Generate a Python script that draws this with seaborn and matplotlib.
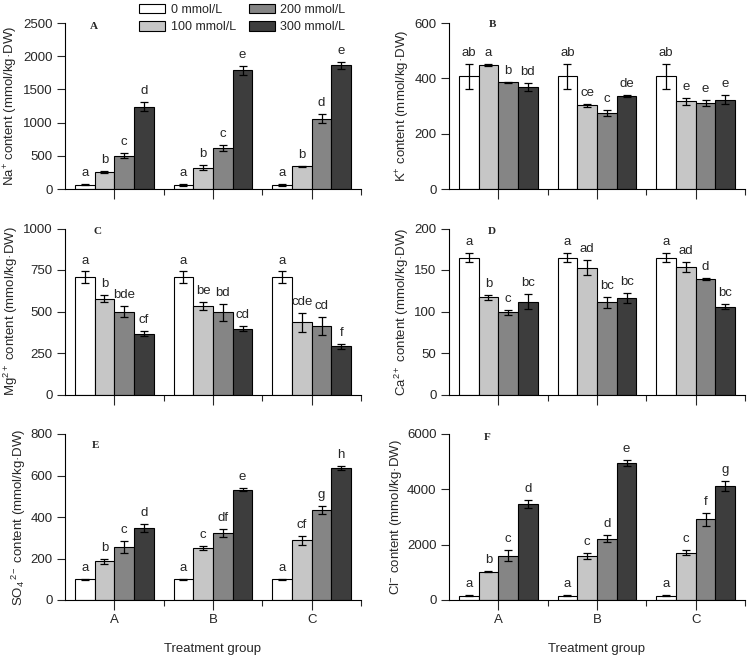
import numpy as np
import pandas as pd
import matplotlib
matplotlib.use("Agg")
import matplotlib.pyplot as plt
import seaborn as sns
from matplotlib.patches import Patch

sns.set_theme(style="ticks")
plt.rcParams['font.family'] = ['Liberation Sans', 'DejaVu Sans']
plt.rcParams['mathtext.fontset'] = 'custom'
plt.rcParams['mathtext.rm'] = 'Liberation Sans'
plt.rcParams['mathtext.it'] = 'Liberation Sans:italic'
plt.rcParams['mathtext.default'] = 'regular'

# ---------------- data ----------------
groups = ["A", "B", "C"]
concs = ["0 mmol/L", "100 mmol/L", "200 mmol/L", "300 mmol/L"]
colors = ["#ffffff", "#c6c6c6", "#858585", "#3d3d3d"]

# rows = treatment group A, B, C ; columns = 0, 100, 200, 300 mmol/L
na_mean = [[65, 260, 500, 1240], [62, 320, 620, 1785], [62, 340, 1060, 1865]]
na_err = [[10, 15, 35, 65], [10, 35, 50, 70], [10, 5, 70, 55]]
na_let = [["a", "b", "c", "d"], ["a", "b", "c", "e"], ["a", "b", "d", "e"]]

k_mean = [[407, 447, 385, 369], [407, 303, 276, 337], [407, 317, 311, 323]]
k_err = [[46, 4, 2, 15], [46, 6, 11, 3], [46, 13, 11, 16]]
k_let = [["ab", "a", "b", "bd"], ["ab", "ce", "c", "de"], ["ab", "e", "e", "e"]]

mg_mean = [[705, 577, 500, 367], [705, 535, 495, 396], [705, 434, 415, 290]]
mg_err = [[36, 20, 32, 14], [36, 24, 50, 16], [36, 58, 54, 16]]
mg_let = [["a", "b", "bde", "cf"], ["a", "be", "bd", "cd"], ["a", "cde", "cd", "f"]]

ca_mean = [[165, 117, 99, 112], [165, 153, 111, 116], [165, 154, 139, 106]]
ca_err = [[5, 3, 3, 9], [5, 9, 7, 6], [5, 6, 1, 3]]
ca_let = [["a", "b", "c", "bc"], ["a", "ad", "bc", "bc"], ["a", "ad", "d", "bc"]]

so4_mean = [[100, 187, 256, 346], [100, 251, 323, 531], [100, 287, 434, 638]]
so4_err = [[3, 13, 30, 19], [3, 11, 21, 8], [3, 21, 19, 10]]
so4_let = [["a", "b", "c", "d"], ["a", "c", "df", "e"], ["a", "cf", "g", "h"]]

cl_mean = [[150, 1030, 1600, 3470], [150, 1590, 2220, 4950], [150, 1710, 2920, 4120]]
cl_err = [[20, 15, 190, 145], [20, 120, 130, 115], [20, 80, 235, 190]]
cl_let = [["a", "b", "c", "d"], ["a", "c", "d", "e"], ["a", "c", "f", "g"]]

panels = [
    ("A", "Na$^{+}$ content (mmol/kg·DW)", na_mean, na_err, na_let, [0, 500, 1000, 1500, 2000, 2500]),
    ("B", "K$^{+}$ content (mmol/kg·DW)", k_mean, k_err, k_let, [0, 200, 400, 600]),
    ("C", "Mg$^{2+}$ content (mmol/kg·DW)", mg_mean, mg_err, mg_let, [0, 250, 500, 750, 1000]),
    ("D", "Ca$^{2+}$ content (mmol/kg·DW)", ca_mean, ca_err, ca_let, [0, 50, 100, 150, 200]),
    ("E", "SO$_{4}$$^{\\,2-}$ content (mmol/kg·DW)", so4_mean, so4_err, so4_let, [0, 200, 400, 600, 800]),
    ("F", "Cl$^{-}$ content (mmol/kg·DW)", cl_mean, cl_err, cl_let, [0, 2000, 4000, 6000]),
]

letter_pos = {"A": (0.098, 0.976), "B": (0.148, 0.99), "C": (0.111, 0.98),
              "D": (0.145, 0.98), "E": (0.104, 0.93), "F": (0.128, 0.976)}

W, H = 750, 655
fig = plt.figure(figsize=(W / 100, H / 100), dpi=100)

col_left = [65, 449]
row_zero = [189, 394.5, 600]
ax_w, ax_h = 296, 166

fs = 9.5
for i, (tag, ylabel, mean, err, lets, yticks) in enumerate(panels):
    r, c = divmod(i, 2)
    x0 = col_left[c]
    y0 = row_zero[r]
    ax = fig.add_axes([x0 / W, 1 - y0 / H, ax_w / W, ax_h / H])
    df = pd.DataFrame([
        {"group": g, "conc": cc, "value": mean[gi][ci]}
        for gi, g in enumerate(groups) for ci, cc in enumerate(concs)
    ])
    sns.barplot(data=df, x="group", y="value", hue="conc", order=groups,
                hue_order=concs, palette=colors, edgecolor="black",
                linewidth=0.8, errorbar=None, legend=False, ax=ax, width=0.8,
                saturation=1)
    ymax = yticks[-1]
    bar_conts = list(ax.containers)
    for ci, cont in enumerate(bar_conts):
        for gi, bar in enumerate(cont.patches):
            xc = bar.get_x() + bar.get_width() / 2
            h = bar.get_height()
            e = err[gi][ci]
            ax.errorbar(xc, h, yerr=e, fmt="none", ecolor="black",
                        elinewidth=0.9, capsize=3, capthick=0.9)
            ax.text(xc, h + e + ymax * 0.03, lets[gi][ci], ha="center",
                    va="bottom", fontsize=fs)
    ax.set_ylim(0, ymax)
    ax.set_xlim(-0.5, 2.5)
    ax.set_yticks(yticks)
    ax.set_yticklabels([str(t) for t in yticks], fontsize=fs)
    ax.set_xticks([0, 1, 2])
    ax.set_xticks([0.5, 1.5, 2.5], minor=True)
    ax.tick_params(axis="x", which="major", length=7, width=0.8, direction="out", pad=3)
    ax.tick_params(axis="x", which="minor", length=4, width=0.8, direction="out")
    ax.tick_params(axis="y", length=6, width=0.8, direction="out", pad=3)
    for s in ["top", "right"]:
        ax.spines[s].set_visible(False)
    for s in ["left", "bottom"]:
        ax.spines[s].set_linewidth(0.8)
        ax.spines[s].set_color("black")
    ax.set_ylabel(ylabel, fontsize=fs, labelpad=2)
    if r == 2:
        ax.set_xticklabels(groups, fontsize=fs)
        ax.set_xlabel("Treatment group", fontsize=fs, labelpad=12)
    else:
        ax.set_xticklabels([])
        ax.set_xlabel("")
    lx, ly = letter_pos[tag]
    ax.text(lx, ly, tag, transform=ax.transAxes, ha="center", va="center",
            fontsize=8, fontweight="bold", family="Liberation Serif")

handles = [Patch(facecolor=col, edgecolor="black", linewidth=0.8) for col in colors]
fig.legend(handles, concs, loc="upper left", bbox_to_anchor=(139 / W, 1 - 3.5 / H),
           ncol=2, frameon=False, fontsize=9, handlelength=2.1, handleheight=0.85,
           handletextpad=0.45, columnspacing=1.0, labelspacing=0.4, borderpad=0,
           borderaxespad=0)

fig.savefig("out.png", dpi=100)
